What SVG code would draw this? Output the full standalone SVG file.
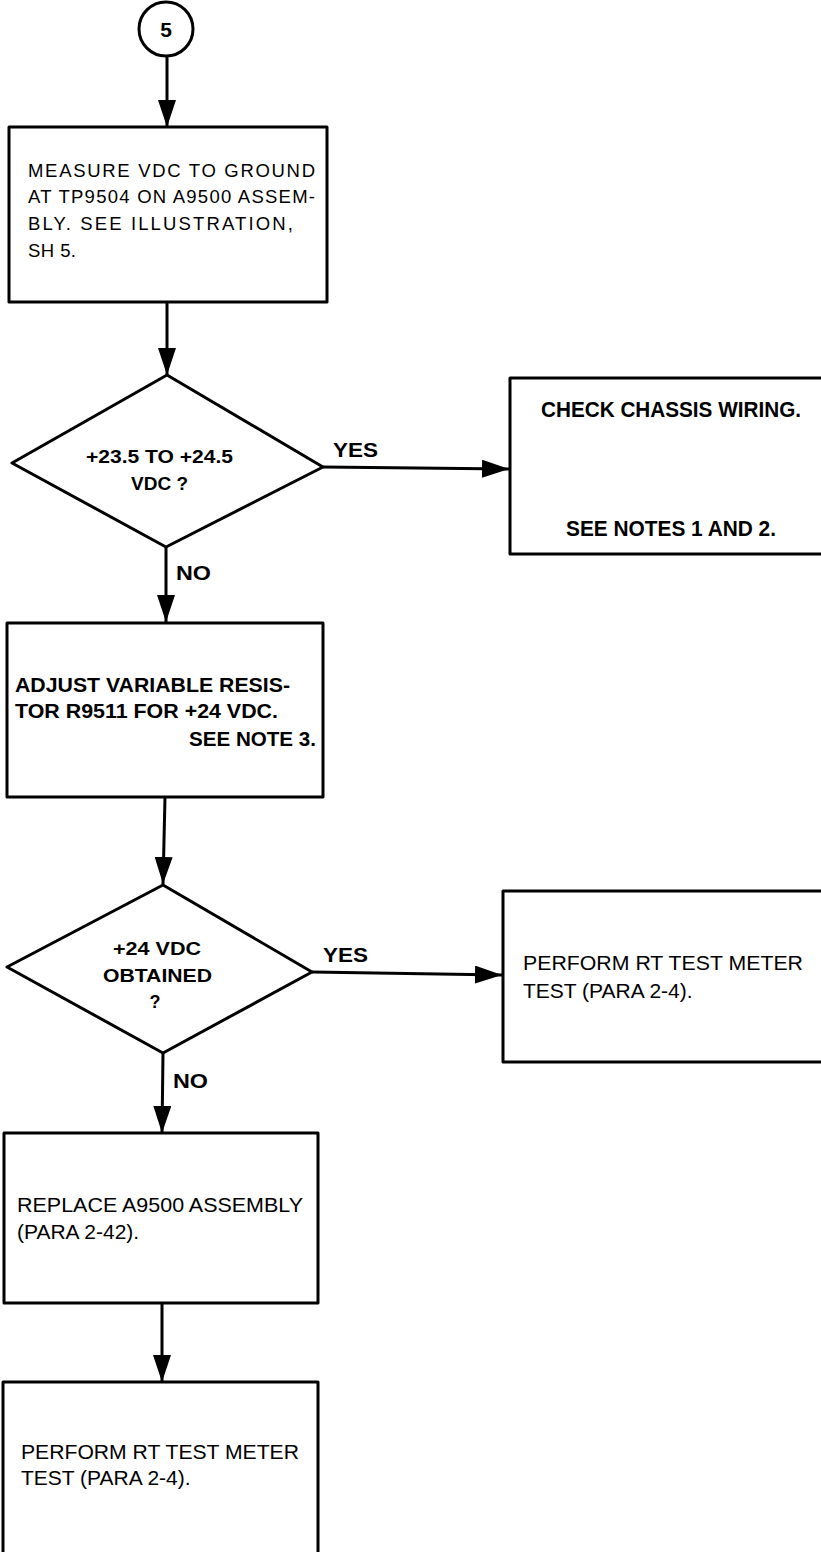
<svg xmlns="http://www.w3.org/2000/svg" width="821" height="1552" viewBox="0 0 821 1552">
<style>
.shape{fill:#fff;stroke:#000;stroke-width:3;stroke-linejoin:round}
.conn{fill:none;stroke:#000;stroke-width:3}
.reg{font-family:"Liberation Sans",Arial,sans-serif;font-size:21px;fill:#000}
.light{font-family:"Liberation Sans",Arial,sans-serif;font-size:18.5px;fill:#000}
.bold{font-family:"Liberation Sans",Arial,sans-serif;font-weight:bold;fill:#000}
</style>
<defs>
<marker id="arr" markerUnits="userSpaceOnUse" markerWidth="27" markerHeight="18" refX="27" refY="9" orient="auto">
<path d="M0,0 L27,9 L0,18 z" fill="#000"/>
</marker>
</defs>
<rect width="821" height="1552" fill="#fff"/>
<g id="connectors">
<line class="conn" x1="167" y1="57" x2="167" y2="127" marker-end="url(#arr)"/>
<line class="conn" x1="167" y1="302" x2="167" y2="375" marker-end="url(#arr)"/>
<line class="conn" x1="323" y1="467" x2="509" y2="469" marker-end="url(#arr)"/>
<line class="conn" x1="166" y1="547" x2="166" y2="622" marker-end="url(#arr)"/>
<line class="conn" x1="165" y1="797" x2="163" y2="884" marker-end="url(#arr)"/>
<line class="conn" x1="312" y1="972" x2="502" y2="975" marker-end="url(#arr)"/>
<line class="conn" x1="163" y1="1053" x2="162" y2="1133" marker-end="url(#arr)"/>
<line class="conn" x1="162" y1="1304" x2="162" y2="1382" marker-end="url(#arr)"/>
<text class="bold" x="333" y="457" font-size="20" textLength="45" lengthAdjust="spacingAndGlyphs">YES</text>
<text class="bold" x="176" y="580" font-size="20" textLength="35" lengthAdjust="spacingAndGlyphs">NO</text>
<text class="bold" x="323" y="962" font-size="20" textLength="45" lengthAdjust="spacingAndGlyphs">YES</text>
<text class="bold" x="173" y="1088" font-size="20" textLength="35" lengthAdjust="spacingAndGlyphs">NO</text>
</g>
<g id="start">
<circle class="shape" cx="166" cy="29" r="27"/>
<text class="bold" x="166" y="37" font-size="21" text-anchor="middle">5</text>
</g>
<g id="measure">
<rect class="shape" x="9" y="127" width="318" height="175"/>
<text class="light" x="28" y="177" textLength="287" lengthAdjust="spacing">MEASURE VDC TO GROUND</text>
<text class="light" x="28" y="203" textLength="287" lengthAdjust="spacing">AT TP9504 ON A9500 ASSEM-</text>
<text class="light" x="28" y="230" textLength="265" lengthAdjust="spacing">BLY. SEE ILLUSTRATION,</text>
<text class="light" x="28" y="257" textLength="48" lengthAdjust="spacing">SH 5.</text>
</g>
<g id="decision1">
<polygon class="shape" points="167,375 323,467 166,547 12,463"/>
<text class="bold" x="86" y="463" font-size="18" textLength="147" lengthAdjust="spacingAndGlyphs">+23.5 TO +24.5</text>
<text class="bold" x="131" y="490" font-size="18" textLength="57" lengthAdjust="spacingAndGlyphs">VDC ?</text>
</g>
<g id="check">
<rect class="shape" x="510" y="378" width="330" height="176"/>
<text class="bold" x="541" y="417" font-size="22" textLength="260" lengthAdjust="spacingAndGlyphs">CHECK CHASSIS WIRING.</text>
<text class="bold" x="566" y="536" font-size="22" textLength="210" lengthAdjust="spacingAndGlyphs">SEE NOTES 1 AND 2.</text>
</g>
<g id="adjust">
<rect class="shape" x="7" y="623" width="316" height="174"/>
<text class="bold" x="15" y="692" font-size="21" textLength="275" lengthAdjust="spacingAndGlyphs">ADJUST VARIABLE RESIS-</text>
<text class="bold" x="15" y="718" font-size="21" textLength="263" lengthAdjust="spacingAndGlyphs">TOR R9511 FOR +24 VDC.</text>
<text class="bold" x="189" y="746" font-size="21" textLength="127" lengthAdjust="spacingAndGlyphs">SEE NOTE 3.</text>
</g>
<g id="decision2">
<polygon class="shape" points="163,885 312,972 163,1053 7,967"/>
<text class="bold" x="113" y="955" font-size="18" textLength="88" lengthAdjust="spacingAndGlyphs">+24 VDC</text>
<text class="bold" x="103" y="982" font-size="18" textLength="109" lengthAdjust="spacingAndGlyphs">OBTAINED</text>
<text class="bold" x="155" y="1008" font-size="18" text-anchor="middle">?</text>
</g>
<g id="perform1">
<rect class="shape" x="503" y="891" width="340" height="171"/>
<text class="reg" x="523" y="970" textLength="280" lengthAdjust="spacingAndGlyphs">PERFORM RT TEST METER</text>
<text class="reg" x="523" y="998">TEST (PARA 2-4).</text>
</g>
<g id="replace">
<rect class="shape" x="4" y="1133" width="314" height="170"/>
<text class="reg" x="17" y="1212" textLength="286" lengthAdjust="spacingAndGlyphs">REPLACE A9500 ASSEMBLY</text>
<text class="reg" x="17" y="1239">(PARA 2-42).</text>
</g>
<g id="perform2">
<rect class="shape" x="3" y="1382" width="315" height="200"/>
<text class="reg" x="21" y="1459" textLength="278" lengthAdjust="spacingAndGlyphs">PERFORM RT TEST METER</text>
<text class="reg" x="21" y="1485">TEST (PARA 2-4).</text>
</g>
</svg>
